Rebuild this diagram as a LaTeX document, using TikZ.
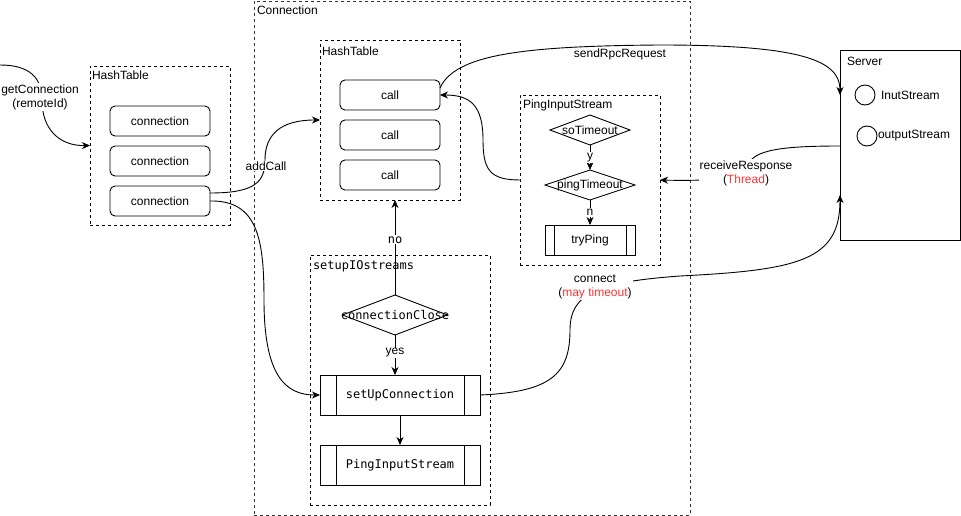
\documentclass[tikz,border=0pt]{standalone}
\usepackage{fontspec}
\setmainfont{Liberation Sans}
\newfontfamily\monof{DejaVu Sans Mono}
\usetikzlibrary{arrows.meta,calc}
\definecolor{redtxt}{RGB}{255,51,51}
\begin{document}
\begin{tikzpicture}[x=1pt,y=-1pt,
  font=\fontsize{12}{14}\selectfont,
  every node/.style={inner sep=0pt, outer sep=0pt},
  lw/.style={line width=0.9pt},
  cont/.style={draw, lw, dash pattern=on 3pt off 3pt, anchor=north west},
  rbox/.style={draw, lw, rounded corners=5pt, minimum width=100pt, minimum height=30pt},
  proc/.style={draw, lw, path picture={
      \draw[lw] ($(path picture bounding box.north west)!0.1!(path picture bounding box.north east)$) -- ($(path picture bounding box.south west)!0.1!(path picture bounding box.south east)$);
      \draw[lw] ($(path picture bounding box.north east)!0.1!(path picture bounding box.north west)$) -- ($(path picture bounding box.south east)!0.1!(path picture bounding box.south west)$);}},
  arr/.style={lw, -{Stealth[length=8pt,width=7pt,inset=2.5pt]}},
  lbl/.style={fill=white, align=center, inner sep=1pt},
  lab/.style={anchor=west}
]
\useasboundingbox (0,0) rectangle (961,516);

% outer Connection container
\node[cont, draw=black!80, minimum width=436pt, minimum height=514pt] (conn) at (254,1) {};
\node[lab] at (257,10) {Connection};

% left HashTable
\node[cont, minimum width=140pt, minimum height=159pt] (ht1) at (90,66) {};
\node[lab] at (92,75) {HashTable};
\node[rbox] (c1) at (160,121) {connection};
\node[rbox] (c2) at (160,161) {connection};
\node[rbox] (c3) at (160,201) {connection};

% inner HashTable
\node[cont, minimum width=140pt, minimum height=160pt] (ht2) at (320,40) {};
\node[lab] at (322,51) {HashTable};
\node[rbox] (k1) at (390,95) {call};
\node[rbox] (k2) at (390,135) {call};
\node[rbox] (k3) at (390,175) {call};

% PingInputStream container
\node[cont, minimum width=140pt, minimum height=170pt] (pis) at (520,95) {};
\node[lab] at (523,105) {PingInputStream};
\node[minimum width=80pt, minimum height=30pt] (so) at (590,130) {};
\draw[lw] (so.north) -- (so.east) -- (so.south) -- (so.west) -- cycle;
\node at (so) {soTimeout};
\node[minimum width=90pt, minimum height=30pt] (pt) at (590,185) {};
\draw[lw] (pt.north) -- (pt.east) -- (pt.south) -- (pt.west) -- cycle;
\node at (pt) {pingTimeout};
\node[proc, minimum width=90pt, minimum height=30pt] (tp) at (590,240) {tryPing};

% setupIOstreams container
\node[cont, minimum width=180pt, minimum height=250pt] (sio) at (310,255) {};
\node[lab] at (313,266) {\monof setupIOstreams};
\node[minimum width=105pt, minimum height=40pt] (cc) at (395,315) {};
\draw[lw] (cc.north) -- (cc.east) -- (cc.south) -- (cc.west) -- cycle;
\node at (cc) {\monof connectionClose};
\node[proc, minimum width=160pt, minimum height=40pt] (suc) at (400,395) {\monof setUpConnection};
\node[proc, minimum width=160pt, minimum height=40pt] (pib) at (400,465) {\monof PingInputStream};

% Server
\node[draw, lw, anchor=north west, minimum width=120pt, minimum height=190pt] (srv) at (840,50) {};
\node[lab] at (847,61) {Server};
\node[draw, lw, circle, minimum size=20pt] (ci1) at (865,95) {};
\node[lab] at (881,95) {InutStream};
\node[draw, lw, circle, minimum size=20pt] (ci2) at (867,136) {};
\node[lab] at (878,136) {outputStream};

% connectors
\coordinate (gc) at (0,65);
\draw[arr] (gc) .. controls (30,65) and (42,78) .. (42,100) .. controls (42,130) and (60,146) .. (ht1.west);
\node[lbl] at (40,97) {getConnection\\(remoteId)};

\draw[arr] ([yshift=8pt]c3.east) .. controls (255,193) and (265,182) .. (265,160) .. controls (265,135) and (280,120) .. (ht2.west);
\node[lbl] at (266,166) {addCall};

\draw[arr] (c3.east) .. controls (258,200) and (264,240) .. (264,300) .. controls (264,375) and (285,395) .. (suc.west);

\draw[arr] ([yshift=7pt]k1.east) .. controls (455,55) and (520,46) .. (660,45) .. controls (800,45) and (840,60) .. ([yshift=-45pt]srv.north west);
\node at (620,54) {sendRpcRequest};

\draw[arr] (pis.west) .. controls (490,180) and (483,170) .. (483,140) .. controls (483,105) and (470,95) .. (k1.east);

\draw[arr] ([yshift=-96pt]srv.north west) .. controls (770,146) and (752,152) .. (746,168) .. controls (740,180) and (700,181) .. (pis.east);
\node[lbl] at (746,173) {receiveResponse\\(\textcolor{redtxt}{Thread})};

\draw[arr] (suc.east) .. controls (550,392) and (570,375) .. (570,330) .. controls (570,292) and (600,282) .. (680,276) .. controls (800,270) and (840,260) .. ([yshift=-145pt]srv.north west);
\node[lbl] at (595,287) {connect\\(\textcolor{redtxt}{may timeout})};

\draw[arr] (so.south) -- (pt.north) node[lbl, midway] {y};
\draw[arr] (pt.south) -- (tp.north) node[lbl, midway] {n};

\draw[arr] (cc.north) -- (cc.north |- ht2.south) node[lbl, pos=0.58] {\monof no};
\draw[arr] (cc.south) -- (cc.south |- suc.north) node[lbl, pos=0.45] {yes};
\draw[arr] (suc.south) -- (pib.north);
\end{tikzpicture}
\end{document}
